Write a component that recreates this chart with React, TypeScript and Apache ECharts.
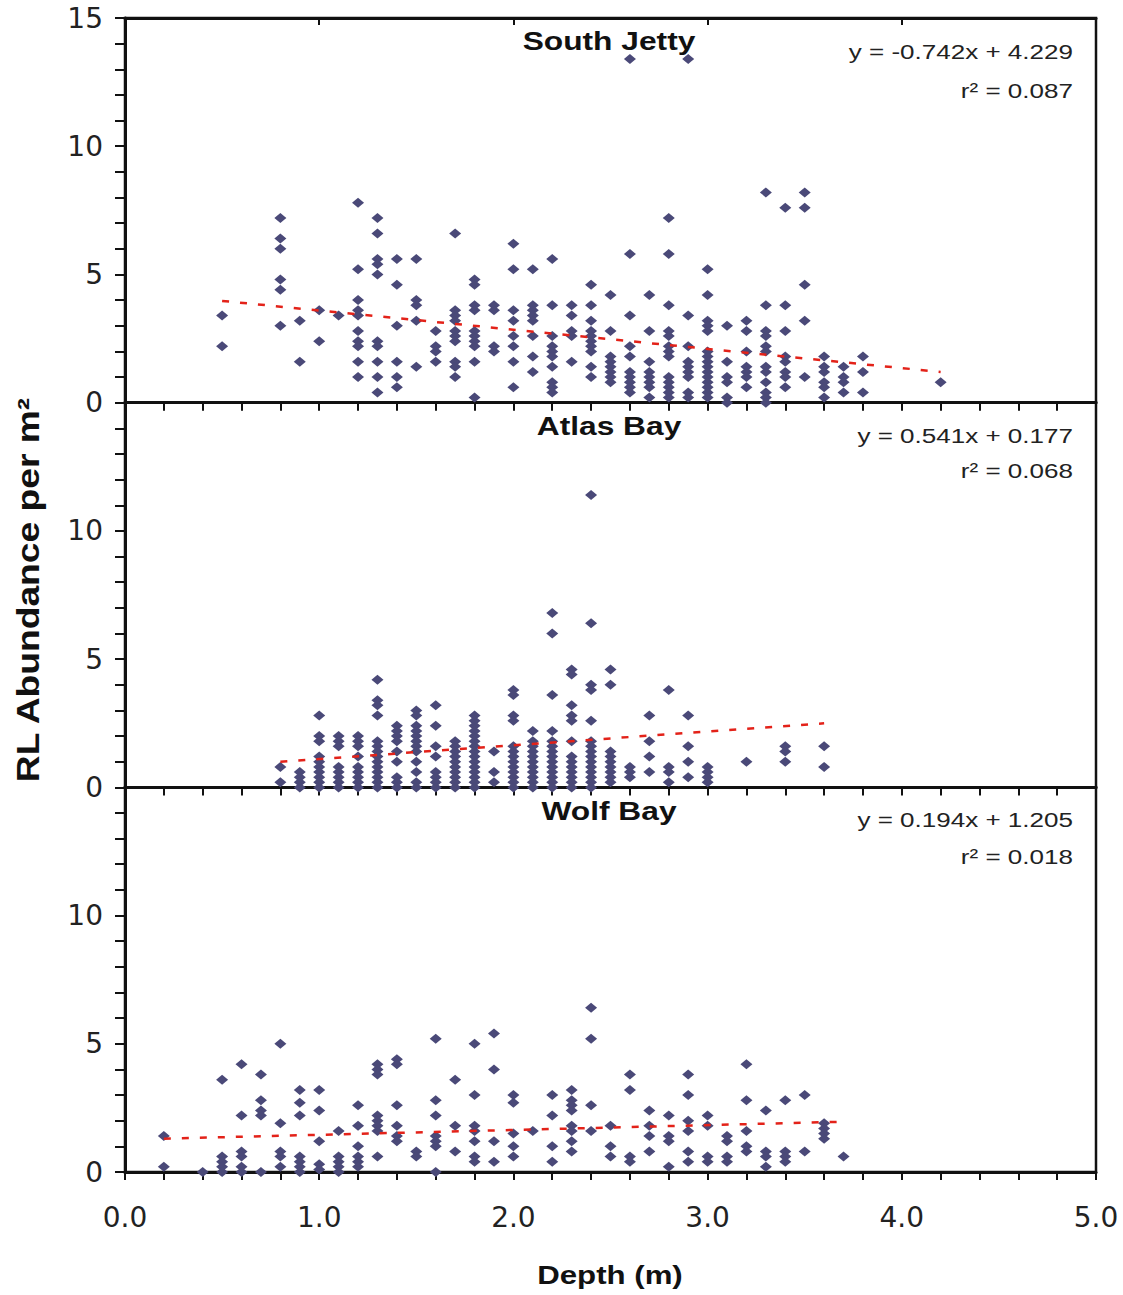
import React, { useEffect, useRef } from "react";
import * as echarts from "echarts";

// Depth (m) columns with the abundance values (per m²) read at each depth
const southJetty: [number, number[]][] = [
  [0.5, [3.4, 2.2]],
  [0.8, [7.2, 6.4, 6.0, 4.8, 4.4, 3.0]],
  [0.9, [3.2, 1.6]],
  [1.0, [3.6, 2.4]],
  [1.1, [3.4]],
  [1.2, [7.8, 5.2, 4.0, 3.6, 3.4, 2.8, 2.4, 2.2, 1.6, 1.0]],
  [1.3, [7.2, 6.6, 5.6, 5.4, 5.0, 2.4, 2.2, 1.6, 1.0, 0.4]],
  [1.4, [5.6, 4.6, 3.0, 1.6, 1.0, 0.6]],
  [1.5, [5.6, 4.0, 3.8, 3.2, 1.4]],
  [1.6, [2.8, 2.2, 2.0, 1.6]],
  [1.7, [6.6, 3.6, 3.4, 3.2, 2.8, 2.6, 2.4, 1.6, 1.4, 1.0]],
  [1.8, [4.8, 4.6, 3.8, 3.6, 2.8, 2.6, 2.4, 2.2, 1.6, 0.2]],
  [1.9, [3.8, 3.6, 2.2, 2.0]],
  [2.0, [6.2, 5.2, 3.6, 3.2, 2.6, 2.2, 1.6, 0.6]],
  [2.1, [5.2, 3.8, 3.6, 3.4, 3.2, 2.6, 1.8, 1.2]],
  [2.2, [5.6, 3.8, 2.6, 2.2, 2.0, 1.8, 1.4, 0.8, 0.6, 0.4]],
  [2.3, [3.8, 3.4, 2.8, 2.6, 1.6]],
  [2.4, [4.6, 3.8, 3.2, 2.8, 2.6, 2.4, 2.2, 2.0, 1.4, 1.0]],
  [2.5, [4.2, 2.8, 1.8, 1.6, 1.4, 1.2, 1.0, 0.8]],
  [2.6, [13.4, 5.8, 3.4, 2.2, 1.8, 1.2, 1.0, 0.8, 0.6, 0.4]],
  [2.7, [4.2, 2.8, 1.6, 1.2, 1.0, 0.8, 0.6, 0.2]],
  [2.8, [7.2, 5.8, 3.8, 2.8, 2.6, 2.2, 2.0, 1.8, 1.0, 0.8, 0.6, 0.4, 0.2]],
  [2.9, [13.4, 3.4, 2.2, 1.6, 1.4, 1.2, 1.0, 0.4, 0.2]],
  [3.0, [5.2, 4.2, 3.2, 3.0, 2.8, 2.0, 1.8, 1.6, 1.4, 1.2, 1.0, 0.8, 0.6, 0.4, 0.2]],
  [3.1, [3.0, 1.6, 1.0, 0.8, 0.2, 0.0]],
  [3.2, [3.2, 2.8, 2.0, 1.4, 1.2, 1.0, 0.6]],
  [3.3, [8.2, 3.8, 2.8, 2.6, 2.2, 2.0, 1.4, 1.2, 0.8, 0.4, 0.2, 0.0]],
  [3.4, [7.6, 3.8, 2.8, 1.8, 1.6, 1.2, 1.0, 0.6]],
  [3.5, [8.2, 7.6, 4.6, 3.2, 1.0]],
  [3.6, [1.8, 1.4, 1.2, 0.8, 0.6, 0.2]],
  [3.7, [1.4, 1.0, 0.8, 0.4]],
  [3.8, [1.8, 1.2, 0.4]],
  [4.2, [0.8]],
];

const atlasBay: [number, number[]][] = [
  [0.8, [0.8, 0.2]],
  [0.9, [0.6, 0.4, 0.2, 0.0]],
  [1.0, [2.8, 2.0, 1.8, 1.2, 1.0, 0.8, 0.6, 0.4, 0.2, 0.0]],
  [1.1, [2.0, 1.8, 1.6, 0.8, 0.6, 0.4, 0.2, 0.0]],
  [1.2, [2.0, 1.8, 1.6, 1.2, 0.8, 0.6, 0.4, 0.2, 0.0]],
  [1.3, [4.2, 3.4, 3.2, 2.8, 1.8, 1.6, 1.4, 1.2, 1.0, 0.8, 0.6, 0.4, 0.2, 0.0]],
  [1.4, [2.4, 2.2, 2.0, 1.8, 1.4, 1.0, 0.4, 0.2, 0.0]],
  [1.5, [3.0, 2.8, 2.4, 2.2, 2.0, 1.8, 1.6, 1.4, 1.0, 0.6, 0.2, 0.0]],
  [1.6, [3.2, 2.4, 1.6, 1.2, 0.6, 0.4, 0.2, 0.0]],
  [1.7, [1.8, 1.6, 1.4, 1.2, 1.0, 0.8, 0.6, 0.4, 0.2, 0.0]],
  [1.8, [2.8, 2.6, 2.4, 2.2, 2.0, 1.8, 1.6, 1.4, 1.2, 1.0, 0.8, 0.6, 0.4, 0.2, 0.0]],
  [1.9, [1.4, 0.6, 0.2]],
  [2.0, [3.8, 3.6, 2.8, 2.6, 1.6, 1.4, 1.2, 1.0, 0.8, 0.6, 0.4, 0.2, 0.0]],
  [2.1, [2.2, 1.8, 1.6, 1.4, 1.2, 1.0, 0.8, 0.6, 0.4, 0.2, 0.0]],
  [2.2, [6.8, 6.0, 3.6, 2.2, 1.8, 1.6, 1.4, 1.2, 1.0, 0.8, 0.6, 0.4, 0.2, 0.0]],
  [2.3, [4.6, 4.4, 3.2, 2.8, 2.6, 1.8, 1.2, 1.0, 0.8, 0.6, 0.4, 0.2, 0.0]],
  [2.4, [11.4, 6.4, 4.0, 3.8, 2.6, 1.8, 1.6, 1.4, 1.2, 1.0, 0.8, 0.6, 0.4, 0.2, 0.0]],
  [2.5, [4.6, 4.0, 1.4, 1.2, 1.0, 0.8, 0.6, 0.4, 0.2]],
  [2.6, [0.8, 0.6, 0.4]],
  [2.7, [2.8, 1.8, 1.2, 0.6]],
  [2.8, [3.8, 0.8, 0.6, 0.2]],
  [2.9, [2.8, 1.6, 1.0, 0.4]],
  [3.0, [0.8, 0.6, 0.4, 0.2]],
  [3.2, [1.0]],
  [3.4, [1.6, 1.4, 1.0]],
  [3.6, [1.6, 0.8]],
];

const wolfBay: [number, number[]][] = [
  [0.2, [1.4, 0.2]],
  [0.4, [0.0]],
  [0.5, [3.6, 0.6, 0.4, 0.2, 0.0]],
  [0.6, [4.2, 2.2, 0.8, 0.6, 0.2, 0.0]],
  [0.7, [3.8, 2.8, 2.4, 2.2, 0.0]],
  [0.8, [5.0, 1.9, 0.8, 0.6, 0.2]],
  [0.9, [3.2, 2.7, 2.2, 0.6, 0.4, 0.2, 0.0]],
  [1.0, [3.2, 2.4, 1.2, 0.3, 0.1]],
  [1.1, [1.6, 0.6, 0.4, 0.2, 0.0]],
  [1.2, [2.6, 1.8, 1.0, 0.6, 0.4, 0.2]],
  [1.3, [4.2, 4.0, 3.8, 2.2, 2.0, 1.8, 1.6, 0.6]],
  [1.4, [4.4, 4.2, 2.6, 1.8, 1.4, 1.2]],
  [1.5, [0.8, 0.6]],
  [1.6, [5.2, 2.8, 2.2, 1.4, 1.2, 1.0, 0.0]],
  [1.7, [3.6, 1.8, 0.8]],
  [1.8, [5.0, 3.0, 1.8, 1.6, 1.2, 0.6, 0.4]],
  [1.9, [5.4, 4.0, 1.2, 0.4]],
  [2.0, [3.0, 2.7, 1.5, 1.0, 0.6]],
  [2.1, [1.6]],
  [2.2, [3.0, 2.2, 1.0, 0.4]],
  [2.3, [3.2, 2.8, 2.6, 2.4, 1.8, 1.6, 1.2, 0.8]],
  [2.4, [6.4, 5.2, 2.6, 1.6]],
  [2.5, [1.8, 1.0, 0.6]],
  [2.6, [3.8, 3.2, 0.6, 0.4]],
  [2.7, [2.4, 1.8, 1.4, 0.8]],
  [2.8, [2.2, 1.4, 1.2, 0.2]],
  [2.9, [3.8, 3.0, 2.0, 1.6, 0.8, 0.4]],
  [3.0, [2.2, 1.8, 0.6, 0.4]],
  [3.1, [1.4, 1.2, 0.6, 0.4]],
  [3.2, [4.2, 2.8, 1.6, 1.0, 0.8]],
  [3.3, [2.4, 0.8, 0.6, 0.2]],
  [3.4, [2.8, 0.8, 0.6, 0.4]],
  [3.5, [3.0, 0.8]],
  [3.6, [1.9, 1.7, 1.5, 1.3]],
  [3.7, [0.6]],
];

// Trend lines as drawn (end points)
const southJettyTrend: [number, number][] = [[0.5, 3.97], [4.2, 1.2]];
const atlasBayTrend: [number, number][] = [[0.8, 1.0], [3.6, 2.5]];
const wolfBayTrend: [number, number][] = [[0.2, 1.3], [3.7, 1.96]];

const panelTitles = ["South Jetty", "Atlas Bay", "Wolf Bay"];
const equations = ["y = -0.742x + 4.229", "y = 0.541x + 0.177", "y = 0.194x + 1.205"];
const rSquared = ["r² = 0.087", "r² = 0.068", "r² = 0.018"];

const xMin = 0;
const xMax = 5;
const yMin = 0;
const yMax = 15;

const flatten = (cols: [number, number[]][]) => {
  const out: [number, number][] = [];
  cols.forEach(([d, vals]) => vals.forEach((v) => out.push([d, v])));
  return out;
};

export default function App() {
  const ref = useRef<HTMLDivElement>(null);

  useEffect(() => {
    if (!ref.current) return;
    const chart = echarts.init(ref.current, undefined, { renderer: "svg" });

    const left = 125;
    const width = 971;
    const tops = [18, 402.7, 787.3];
    const h = 384.7;
    const axisColor = "#111";
    const markerColor = "#4a4978";
    const lineColor = "#e32219";
    const tickFont = "DejaVu Sans";

    const grids = tops.map((t) => ({
      left,
      top: t,
      width,
      height: h,
      show: true,
      borderColor: axisColor,
      borderWidth: 2.5,
      backgroundColor: "transparent",
      containLabel: false,
    }));

    const xAxes: any[] = [0, 1, 2].map((i) => ({
      type: "value",
      gridIndex: i,
      min: xMin,
      max: xMax,
      interval: 1,
      position: "bottom",
      axisLine: { show: true, onZero: false, lineStyle: { color: axisColor, width: 3 } },
      axisTick: { show: true, inside: false, length: 8, lineStyle: { color: axisColor, width: 2 } },
      minorTick: { show: true, splitNumber: 5, length: 8, lineStyle: { color: axisColor, width: 2 } },
      splitLine: { show: false },
      minorSplitLine: { show: false },
      axisLabel: {
        show: i === 2,
        margin: 31,
        fontSize: 28,
        fontFamily: tickFont,
        color: "#222",
        formatter: (v: number) => v.toFixed(1),
      },
    }));
    // top border ticks on the first panel
    xAxes.push({
      type: "value",
      gridIndex: 0,
      min: xMin,
      max: xMax,
      interval: 1,
      position: "top",
      axisLine: { show: true, onZero: false, lineStyle: { color: axisColor, width: 3 } },
      axisTick: { show: true, inside: true, length: 7, lineStyle: { color: axisColor, width: 2 } },
      splitLine: { show: false },
      axisLabel: { show: false },
    });

    const yAxes = [0, 1, 2].map((i) => ({
      type: "value",
      gridIndex: i,
      min: yMin,
      max: yMax,
      interval: 5,
      axisLine: { show: true, onZero: false, lineStyle: { color: axisColor, width: 3 } },
      axisTick: { show: true, inside: false, length: 10, lineStyle: { color: axisColor, width: 2 } },
      minorTick: { show: true, splitNumber: 5, length: 10, lineStyle: { color: axisColor, width: 2 } },
      splitLine: { show: false },
      minorSplitLine: { show: false },
      axisLabel: {
        show: true,
        margin: 22,
        fontSize: 28,
        fontFamily: tickFont,
        color: "#222",
        formatter: (v: number) => (i > 0 && v === 15 ? "" : String(v)),
      },
    }));

    const sets = [southJetty, atlasBay, wolfBay];
    const trends = [southJettyTrend, atlasBayTrend, wolfBayTrend];

    const series: any[] = [];
    sets.forEach((s, i) => {
      series.push({
        type: "scatter",
        xAxisIndex: i,
        yAxisIndex: i,
        data: flatten(s),
        symbol: "diamond",
        symbolSize: [12, 10],
        itemStyle: { color: markerColor, opacity: 1 },
        z: 3,
        clip: false,
      });
      series.push({
        type: "line",
        xAxisIndex: i,
        yAxisIndex: i,
        data: trends[i],
        symbol: "none",
        lineStyle: { color: lineColor, width: 2.5, type: [7, 11] },
        z: 4,
      });
    });

    const graphics: any[] = [];
    const titleY = [41, 426, 811];
    const eqY = [52, 436, 820];
    const r2Y = [91, 471, 857];
    for (let i = 0; i < 3; i++) {
      graphics.push({
        type: "text",
        x: 609,
        y: titleY[i],
        scaleX: 1.22,
        z: 10,
        style: {
          text: panelTitles[i],
          fontFamily: "Liberation Sans",
          fontWeight: "bold",
          fontSize: 26,
          fill: "#111",
          textAlign: "center",
          textVerticalAlign: "middle",
          align: "center",
          verticalAlign: "middle",
        },
      });
      graphics.push({
        type: "text",
        x: 1073,
        y: eqY[i],
        scaleX: 1.24,
        z: 10,
        style: {
          text: equations[i],
          fontFamily: "Liberation Sans",
          fontSize: 21,
          fill: "#222",
          textAlign: "right",
          textVerticalAlign: "middle",
          align: "right",
          verticalAlign: "middle",
        },
      });
      graphics.push({
        type: "text",
        x: 1073,
        y: r2Y[i],
        scaleX: 1.24,
        z: 10,
        style: {
          text: rSquared[i],
          fontFamily: "Liberation Sans",
          fontSize: 21,
          fill: "#222",
          textAlign: "right",
          textVerticalAlign: "middle",
          align: "right",
          verticalAlign: "middle",
        },
      });
    }
    graphics.push({
      type: "text",
      x: 28,
      y: 590,
      rotation: Math.PI / 2,
      scaleX: 1.2,
      z: 10,
      style: {
        text: "RL Abundance per m²",
        fontFamily: "Liberation Sans",
        fontWeight: "bold",
        fontSize: 31,
        fill: "#111",
        textAlign: "center",
        textVerticalAlign: "middle",
        align: "center",
        verticalAlign: "middle",
      },
    });
    graphics.push({
      type: "text",
      x: 610,
      y: 1275,
      scaleX: 1.2,
      z: 10,
      style: {
        text: "Depth (m)",
        fontFamily: "Liberation Sans",
        fontWeight: "bold",
        fontSize: 26,
        fill: "#111",
        textAlign: "center",
        textVerticalAlign: "middle",
        align: "center",
        verticalAlign: "middle",
      },
    });

    chart.setOption({
      animation: false,
      backgroundColor: "#ffffff",
      grid: grids,
      xAxis: xAxes,
      yAxis: yAxes,
      series,
      graphic: graphics,
    });

    return () => chart.dispose();
  }, []);

  return (
    <div
      ref={ref}
      style={{ position: "absolute", left: 0, top: 0, width: 1123, height: 1295 }}
    />
  );
}
